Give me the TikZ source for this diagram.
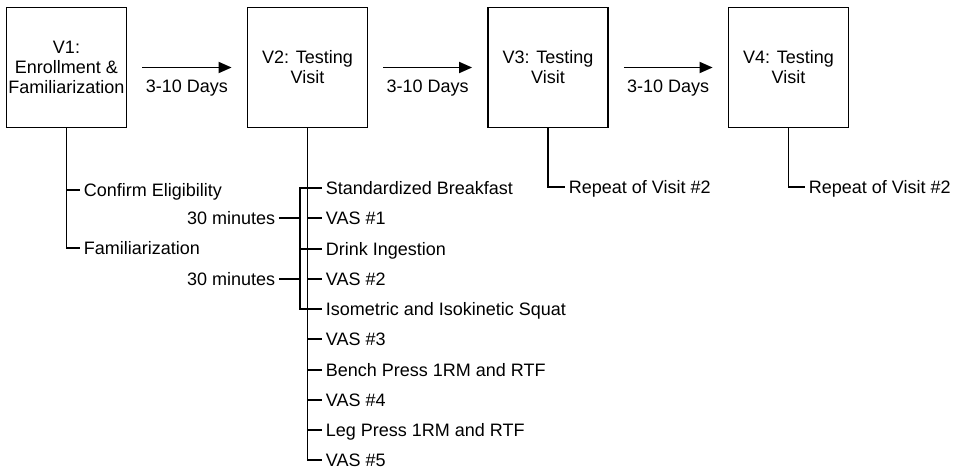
\documentclass[tikz,border=0pt]{standalone}
\usepackage{fontspec}
\setmainfont{Liberation Sans}
\usetikzlibrary{arrows.meta}

\begin{document}
\begin{tikzpicture}[x=1pt, y=-1pt, line width=1.8pt, font=\fontsize{18}{20}\selectfont]
      \tikzset{visit/.style={draw, minimum size=120pt, align=center, inner sep=1pt}}
      \tikzset{item/.style={anchor=west, inner sep=3pt, text height=13pt, text depth=0pt}}
      \tikzset{gap/.style={inner sep=3pt, text height=13pt, text depth=0pt}}
    \useasboundingbox (0,0) rectangle (953,470);

    \node[visit] at (66.5,67.5) (v1) {V1:\\Enrollment \&\\Familiarization};
    \node[visit] at (307.5,67.5) (v2) {V2: Testing\\Visit};
    \node[visit] at (548,67.5) (v3) {V3: Testing\\Visit};
    \node[visit] at (788.5,67.5) (v4) {V4: Testing\\Visit};

    \node[item] at (80,190) (conf) {Confirm Eligibility};
    \node[item] at (80,248) (fam) {Familiarization};

    \node[item] at (322,188) (sb) {Standardized Breakfast};
    \node[item] at (322,218) (vas1) {VAS \#1};
    \node[item] at (322,249) (drink) {Drink Ingestion};
    \node[item] at (322,279) (vas2) {VAS \#2};
    \node[item] at (322,309) (iso) {Isometric and Isokinetic Squat};
    \node[item] at (322,339) (vas3) {VAS \#3};
    \node[item] at (322,370) (bench) {Bench Press 1RM and RTF};
    \node[item] at (322,400) (vas4) {VAS \#4};
    \node[item] at (322,430) (leg) {Leg Press 1RM and RTF};
    \node[item] at (322,460) (vas5) {VAS \#5};

    \node[gap, anchor=east] at (279,218) (min1) {30 minutes};
    \node[gap, anchor=east] at (279,279) (min2) {30 minutes};
    \coordinate (brk) at (300,0);

    \node[item] at (565,187) (rep3) {Repeat of Visit \#2};
    \node[item] at (805,187) (rep4) {Repeat of Visit \#2};

    	\path[->, >={Triangle[length=13pt,width=11pt]}, shorten <=15pt, shorten >=15pt] (v1) edge node[gap, below=8pt] {3-10 Days} (v2);
    	\path[->, >={Triangle[length=13pt,width=11pt]}, shorten <=15pt, shorten >=15pt] (v2) edge node[gap, below=8pt] {3-10 Days} (v3);
    	\path[->, >={Triangle[length=13pt,width=11pt]}, shorten <=15pt, shorten >=15pt] (v3) edge node[gap, below=8pt] {3-10 Days} (v4);

    	\draw (v1.south) |- (fam.west);
    	\draw (v1.south |- conf.west) -- (conf.west);

    	\draw (v2.south) |- (vas5.west);
    	\draw (v2.south |- sb.west) -- (sb.west);
    	\draw (v2.south |- vas1.west) -- (vas1.west);
    	\draw (v2.south |- drink.west) -- (drink.west);
    	\draw (v2.south |- vas2.west) -- (vas2.west);
    	\draw (v2.south |- iso.west) -- (iso.west);
    	\draw (v2.south |- vas3.west) -- (vas3.west);
    	\draw (v2.south |- bench.west) -- (bench.west);
    	\draw (v2.south |- vas4.west) -- (vas4.west);
    	\draw (v2.south |- leg.west) -- (leg.west);

    	\draw (v2.south |- sb.west) -| (brk |- iso.west) -- (v2.south |- iso.west);
    	\draw (brk |- drink.west) -- (v2.south |- drink.west);
    	\draw (min1.east) -- (brk |- min1.east);
    	\draw (min2.east) -- (brk |- min2.east);

    	\draw (v3.south) |- (rep3.west);
    	\draw (v4.south) |- (rep4.west);

  \end{tikzpicture}
\end{document}
